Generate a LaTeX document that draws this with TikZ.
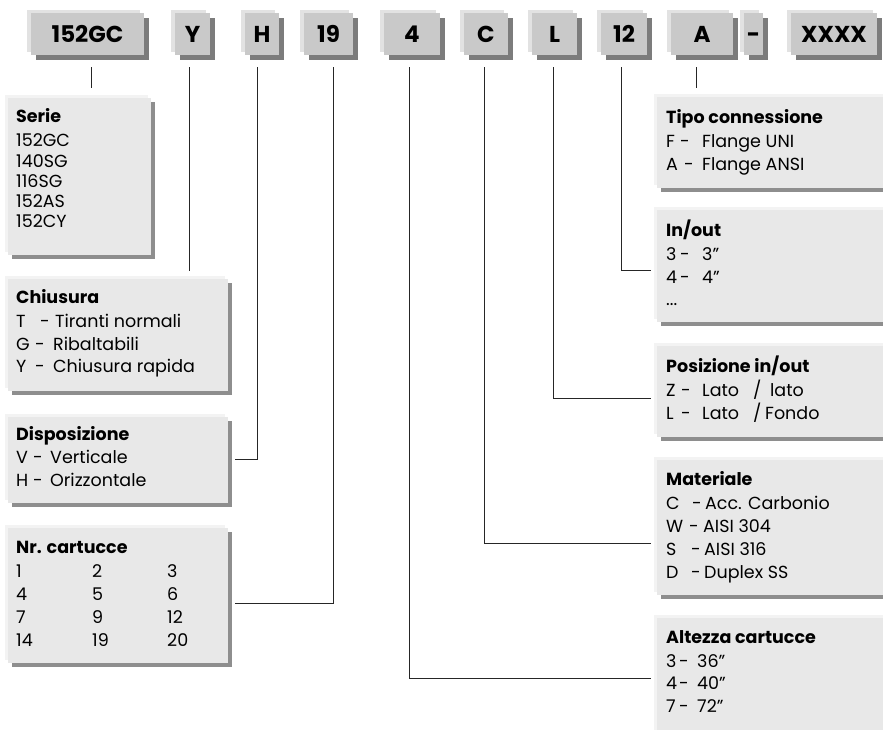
\documentclass[tikz,border=0pt]{standalone}
\usepackage{fontspec}
\setmainfont{Poppins}
\definecolor{codefill}{HTML}{C9C9C9}
\definecolor{codehi}{HTML}{E2E2E2}
\definecolor{codesh}{HTML}{7C7C7C}
\definecolor{detfill}{HTML}{E8E8E8}
\definecolor{dethi}{HTML}{F3F3F3}
\definecolor{detsh}{HTML}{8E8E8E}
\newcommand\myrow[5]{\makebox[#1pt][l]{#2}\makebox[#3pt][l]{#4}#5}
\tikzset{
  conn/.style={draw=black!85, line width=0.8pt},
  txt/.style={anchor=base west, inner sep=0pt, font=\fontsize{17.5}{20}\selectfont},
  ttl/.style={anchor=base west, inner sep=0pt, font=\fontsize{17.5}{20}\selectfont\bfseries},
  code/.style={anchor=base, inner sep=0pt, font=\fontsize{23}{26}\selectfont\bfseries}
}
% code box: name, x0, x1, label
\newcommand\codebox[4]{%
  \fill[codehi] (#2-4,10) rectangle (#3-4,52);
  \fill[codesh] (#2+5,18) rectangle (#3+5,60);
  \fill[codefill] (#2,13) rectangle (#3,55);
  \node[code] (#1) at ({(#2+#3)/2},42.5) {#4};
}
% detail box: x0, y0, x1, y1
\newcommand\detbox[4]{%
  \fill[dethi] (#1-3,#2-3) rectangle (#3-3,#4-3);
  \fill[detsh] (#1+4,#2+4) rectangle (#3+4,#4+4);
  \fill[detfill] (#1,#2) rectangle (#3,#4);
}
\begin{document}
\begin{tikzpicture}[x=1pt,y=-1pt]
\clip (0,0) rectangle (883,729);
\fill[white] (0,0) rectangle (883,729);

% ---- code boxes
\codebox{k1}{31}{144}{152GC}
\codebox{k2}{175}{210}{Y}
\codebox{k3}{245}{279}{H}
\codebox{k4}{304}{353}{19}
\codebox{k5}{384}{440}{4}
\codebox{k6}{464}{508}{C}
\codebox{k7}{532}{577}{L}
\codebox{k8}{601}{647}{12}
\codebox{k9}{671}{733}{A}
\codebox{k10}{744}{763}{-}
\codebox{k11}{791}{877}{XXXX}

% ---- detail boxes
\detbox{8}{98}{151}{255}
\detbox{8}{279}{228}{391}
\detbox{8}{417}{228}{503}
\detbox{8}{528}{228}{663}
\detbox{657}{97}{900}{188}
\detbox{657}{210}{900}{322}
\detbox{657}{346}{900}{437}
\detbox{657}{460}{900}{595}
\detbox{657}{618}{900}{740}

% ---- connectors
\coordinate (a1) at (91,67);  \coordinate (b1) at (91,88);
\coordinate (a2) at (189,67); \coordinate (b2) at (189,271);
\coordinate (a3) at (257,67); \coordinate (b3) at (235,459);
\coordinate (a4) at (333,67); \coordinate (b4) at (235,603);
\coordinate (a5) at (409,67); \coordinate (b5) at (651,678);
\coordinate (a6) at (484,67); \coordinate (b6) at (651,543);
\coordinate (a7) at (553,67); \coordinate (b7) at (651,398);
\coordinate (a8) at (621,67); \coordinate (b8) at (651,270);
\coordinate (a9) at (696,67); \coordinate (b9) at (696,88);
\draw[conn] (a1) -- (b1);
\draw[conn] (a2) -- (b2);
\draw[conn] (a3) |- (b3);
\draw[conn] (a4) |- (b4);
\draw[conn] (a5) |- (b5);
\draw[conn] (a6) |- (b6);
\draw[conn] (a7) |- (b7);
\draw[conn] (a8) |- (b8);
\draw[conn] (a9) -- (b9);

% ---- Serie
\node[ttl] (se0) at (16,122) {Serie};
\node[txt] (se1) at (16,146) {152GC};
\node[txt] (se2) at (16,167) {140SG};
\node[txt] (se3) at (16,187) {116SG};
\node[txt] (se4) at (16,207) {152AS};
\node[txt] (se5) at (16,227) {152CY};

% ---- Chiusura
\node[ttl] (ch0) at (16,303) {Chiusura};
\node[txt] (ch1) at (16,327) {\myrow{24}{T}{15}{-}{Tiranti normali}};
\node[txt] (ch2) at (16,350) {\myrow{19}{G}{18}{-}{Ribaltabili}};
\node[txt] (ch3) at (16,372) {\myrow{19}{Y}{18}{-}{Chiusura rapida}};

% ---- Disposizione
\node[ttl] (di0) at (16,440) {Disposizione};
\node[txt] (di1) at (16,463) {\myrow{17}{V}{17}{-}{Verticale}};
\node[txt] (di2) at (16,486) {\myrow{17}{H}{17}{-}{Orizzontale}};

% ---- Nr. cartucce
\node[ttl] (nr0) at (16,553) {Nr. cartucce};
\node[txt] (nr1) at (16,577) {\myrow{76}{1}{75}{2}{3}};
\node[txt] (nr2) at (16,600) {\myrow{76}{4}{75}{5}{6}};
\node[txt] (nr3) at (16,623) {\myrow{76}{7}{75}{9}{12}};
\node[txt] (nr4) at (16,646) {\myrow{76}{14}{75}{19}{20}};

% ---- Tipo connessione
\node[ttl] (tc0) at (666,123) {Tipo connessione};
\node[txt] (tc1) at (666,147) {\myrow{14}{F}{22}{-}{Flange UNI}};
\node[txt] (tc2) at (666,170) {\myrow{18}{A}{18}{-}{Flange ANSI}};

% ---- In/out
\node[ttl] (io0) at (666,236) {In/out};
\node[txt] (io1) at (666,260) {\myrow{14}{3}{22}{-}{3"}};
\node[txt] (io2) at (666,283) {\myrow{14}{4}{22}{-}{4"}};
\node[txt] (io3) at (666,305) {...};

% ---- Posizione in/out
\node[ttl] (po0) at (666,372) {Posizione in/out};
\node[txt] (po1) at (666,396) {\myrow{15}{Z}{21}{-}{\makebox[51pt][l]{Lato}\makebox[17pt][l]{/}lato}};
\node[txt] (po2) at (666,419) {\myrow{15}{L}{21}{-}{\makebox[51pt][l]{Lato}\makebox[12pt][l]{/}Fondo}};

% ---- Materiale
\node[ttl] (ma0) at (666,485) {Materiale};
\node[txt] (ma1) at (666,509) {\myrow{26}{C}{13}{-}{Acc. Carbonio}};
\node[txt] (ma2) at (666,532) {\myrow{23}{W}{14}{-}{AISI 304}};
\node[txt] (ma3) at (666,555) {\myrow{25}{S}{13}{-}{AISI 316}};
\node[txt] (ma4) at (666,578) {\myrow{25}{D}{13}{-}{Duplex SS}};

% ---- Altezza cartucce
\node[ttl] (al0) at (666,643) {Altezza cartucce};
\node[txt] (al1) at (666,667) {\myrow{13}{3}{18}{-}{36"}};
\node[txt] (al2) at (666,689) {\myrow{13}{4}{18}{-}{40"}};
\node[txt] (al3) at (666,712) {\myrow{13}{7}{18}{-}{72"}};
\end{tikzpicture}
\end{document}
